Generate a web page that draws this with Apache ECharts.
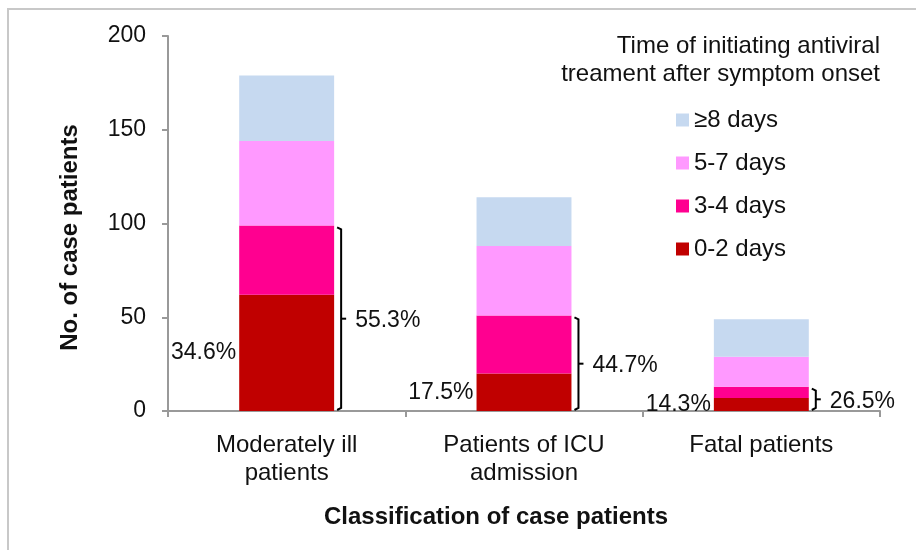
<!DOCTYPE html>
<html>
<head>
<meta charset="utf-8">
<script src="https://cdn.jsdelivr.net/npm/echarts@6/dist/echarts.min.js"></script>
<style>
  html, body { margin: 0; padding: 0; background: #fff; }
  #chart { width: 916px; height: 550px; }
</style>
</head>
<body>
<div id="chart"></div>
<script>
// categories and stacked counts (bottom to top)
const categories = ["Moderately ill\npatients", "Patients of ICU\nadmission", "Fatal patients"];
const days02 = [62, 20, 7];
const days34 = [37, 31, 6];
const days57 = [45, 37, 16];
const days8 = [35, 26, 20];
// share of 0-2 days, and of 0-4 days (bracket)
const pct02 = ["34.6%", "17.5%", "14.3%"];
const pct04 = ["55.3%", "44.7%", "26.5%"];
const legendNames = ["≥8 days", "5-7 days", "3-4 days", "0-2 days"];

const font = "'Liberation Sans', Arial, sans-serif";
const colors = {
	"0-2 days": "#C00000",
	"3-4 days": "#FF0090",
	"5-7 days": "#FF99FF",
	"≥8 days": "#C6D9F0"
};

const chart = echarts.init(document.getElementById("chart"));

const bracketData = categories.map((c, i) => [i, days02[i] + days34[i]]);

function bar(name, data) {
	return {
		name: name,
		type: "bar",
		stack: "total",
		barWidth: "40%",
		itemStyle: { color: colors[name] },
		data: data
	};
}

const option = {
	animation: false,
	textStyle: { fontFamily: font },
	graphic: [
		{
			type: "rect",
			shape: { x: 8, y: 9, width: 1000, height: 700 },
			style: { fill: null, stroke: "#c8c8c8", lineWidth: 2 },
			silent: true
		}
	],
	title: {
		text: "Time of initiating antiviral\ntreament after symptom onset",
		left: 875,
		top: 27,
		textAlign: "right",
		textStyle: { fontFamily: font, fontSize: 24, fontWeight: "normal", color: "#111", lineHeight: 28 }
	},
	legend: {
		data: legendNames,
		orient: "vertical",
		left: 676,
		top: 108,
		padding: 0,
		itemWidth: 13,
		itemHeight: 13,
		itemGap: 19,
		icon: "rect",
		textStyle: { fontFamily: font, fontSize: 24, color: "#111", lineHeight: 24 }
	},
	grid: { left: 168, right: 36, top: 36, bottom: 139 },
	xAxis: {
		type: "category",
		data: categories,
		name: "Classification of case patients",
		nameLocation: "middle",
		nameGap: 94,
		nameTextStyle: { fontFamily: font, fontSize: 24, fontWeight: "bold", color: "#111", padding: [0, 56, 0, 0] },
		axisLine: { lineStyle: { color: "#999", width: 2 } },
		axisTick: { show: true, length: 6, lineStyle: { color: "#999", width: 2 } },
		axisLabel: { fontFamily: font, fontSize: 24, color: "#111", lineHeight: 28, margin: 20 }
	},
	yAxis: {
		type: "value",
		min: 0,
		max: 200,
		interval: 50,
		name: "No. of case patients",
		nameLocation: "middle",
		nameRotate: 90,
		nameGap: 86,
		nameTextStyle: { fontFamily: font, fontSize: 24, fontWeight: "bold", color: "#111", padding: [0, 28, 0, 0] },
		axisLine: { show: true, lineStyle: { color: "#999", width: 2 } },
		axisTick: { show: true, length: 6, lineStyle: { color: "#999", width: 2 } },
		axisLabel: { fontFamily: font, fontSize: 23, color: "#111", margin: 22 },
		splitLine: { show: false }
	},
	series: [
		Object.assign(bar("0-2 days", days02), {
			label: {
				show: true,
				position: "left",
				distance: 3,
				fontFamily: font,
				fontSize: 23,
				color: "#111",
				formatter: (p) => pct02[p.dataIndex]
			}
		}),
		bar("3-4 days", days34),
		bar("5-7 days", days57),
		bar("≥8 days", days8),
		{
			type: "custom",
			coordinateSystem: "cartesian2d",
			silent: true,
			z: 5,
			data: bracketData,
			renderItem: function (params, api) {
				const idx = api.value(0);
				const p0 = api.coord([idx, 0]);
				const p1 = api.coord([idx, api.value(1)]);
				const half = api.size([1, 0])[0] * 0.2;
				const bx = p0[0] + half + 7;
				const y0 = p0[1] - 1;
				const y1 = p1[1] + 2;
				const ym = (y0 + y1) / 2;
				return {
					type: "group",
					children: [
						{
							type: "polyline",
							shape: { points: [[bx - 4, y1], [bx, y1 + 2], [bx, y0 - 2], [bx - 4, y0]] },
							style: { stroke: "#000", lineWidth: 2, fill: null }
						},
						{
							type: "line",
							shape: { x1: bx, y1: ym, x2: bx + 5, y2: ym },
							style: { stroke: "#000", lineWidth: 2 }
						},
						{
							type: "text",
							x: bx + 14,
							y: ym + 2,
							style: {
								text: pct04[params.dataIndex],
								fontFamily: font,
								fontSize: 23,
								fill: "#111",
								align: "left",
								verticalAlign: "middle"
							}
						}
					]
				};
			}
		}
	]
};

chart.setOption(option);
</script>
</body>
</html>
